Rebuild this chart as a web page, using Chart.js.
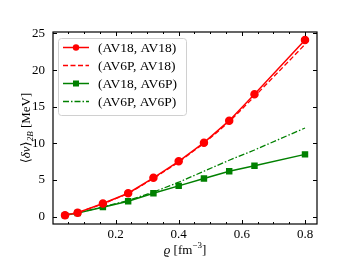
<!DOCTYPE html>
<html>
<head>
<meta charset="utf-8">
<script src="https://cdn.jsdelivr.net/npm/chart.js@4/dist/chart.umd.min.js"></script>
<style>
  html, body { margin: 0; padding: 0; background: #fff; }
  #box { width: 352px; height: 264px; }
</style>
</head>
<body>
<div id="box"><canvas id="deltaV" width="352" height="264"></canvas></div>
<script>
// density grid, fm^-3
const rho = [0.04, 0.08, 0.16, 0.24, 0.32, 0.40, 0.48, 0.56, 0.64, 0.80];
// <dv>_2B in MeV
const av18av18 = [0.2, 0.55, 1.8, 3.2, 5.3, 7.55, 10.1, 13.1, 16.7, 24.1];
const av6pav18 = [0.2, 0.55, 1.75, 3.15, 5.2, 7.45, 10.0, 12.95, 16.4, 23.5];
const av18av6p = [0.2, 0.5, 1.3, 2.1, 3.2, 4.2, 5.2, 6.2, 6.95, 8.5];
const av6pav6p = [0.2, 0.5, 1.35, 2.2, 3.35, 4.7, 6.2, 7.7, 9.1, 12.1];
const labels = ['(AV18, AV18)', '(AV6P, AV18)', '(AV18, AV6P)', '(AV6P, AV6P)'];
const xTicks = [0.2, 0.4, 0.6, 0.8];
const yTicks = [0, 5, 10, 15, 20, 25];

const SERIF = "'Liberation Serif', 'DejaVu Serif', serif";
const RED = '#ff0000';
const GREEN = '#008000';

const pts = ys => ys.map((y, i) => ({x: rho[i], y: y}));

// inward ticks on all four sides + frame, like matplotlib
const frame = {
    id: 'frame',
    afterDatasetsDraw(chart) {
        const {ctx, chartArea: a, scales: {x, y}} = chart;
        ctx.save();
        ctx.strokeStyle = '#000';
        ctx.lineWidth = 1;
        for (let v = 0.05; v < 0.84; v += 0.05) {
            const px = Math.round(x.getPixelForValue(v)) + 0.5;
            const major = xTicks.some(t => Math.abs(t - v) < 1e-6);
            const len = major ? 4 : 2;
            ctx.beginPath();
            ctx.moveTo(px, a.bottom); ctx.lineTo(px, a.bottom - len);
            ctx.moveTo(px, a.top); ctx.lineTo(px, a.top + len);
            ctx.stroke();
        }
        yTicks.forEach(v => {
            const py = Math.round(y.getPixelForValue(v)) + 0.5;
            ctx.beginPath();
            ctx.moveTo(a.left, py); ctx.lineTo(a.left + 4, py);
            ctx.moveTo(a.right, py); ctx.lineTo(a.right - 4, py);
            ctx.stroke();
        });
        ctx.lineWidth = 1.2;
        ctx.strokeRect(a.left, a.top, a.right - a.left, a.bottom - a.top);
        ctx.restore();
    }
};

// axis titles, y one has a subscript
const titles = {
    id: 'titles',
    afterDraw(chart) {
        const {ctx, chartArea: a} = chart;
        ctx.save();
        ctx.fillStyle = '#000';
        ctx.textBaseline = 'middle';
        ctx.textAlign = 'left';
        // x title
        const xparts = [
            ['italic 13px ' + SERIF, 'ϱ ', 0],
            ['13px ' + SERIF, '[fm', 0],
            ['9px ' + SERIF, '−3', -5],
            ['13px ' + SERIF, ']', 0]
        ];
        let total = 0;
        xparts.forEach(p => { ctx.font = p[0]; total += ctx.measureText(p[1]).width; });
        let sx = (a.left + a.right) / 2 - total / 2;
        xparts.forEach(p => {
            ctx.font = p[0];
            ctx.fillText(p[1], sx, 251 + p[2]);
            sx += ctx.measureText(p[1]).width;
        });

        // y title, rotated
        ctx.translate(27, (a.top + a.bottom) / 2);
        ctx.rotate(-Math.PI / 2);
        const parts = [
            ['13px ' + SERIF, '⟨', 0],
            ['italic 13px ' + SERIF, 'δv', 0],
            ['13px ' + SERIF, '⟩', 0],
            ['italic 9px ' + SERIF, '2B', 4],
            ['13px ' + SERIF, ' [MeV]', 0]
        ];
        total = 0;
        parts.forEach(p => { ctx.font = p[0]; total += ctx.measureText(p[1]).width; });
        let px = -total / 2;
        parts.forEach(p => {
            ctx.font = p[0];
            ctx.fillText(p[1], px, p[2]);
            px += ctx.measureText(p[1]).width;
        });
        ctx.restore();
    }
};

// matplotlib-style legend box in the upper left
const legendBox = {
    id: 'legendBox',
    afterDatasetsDraw(chart) {
        const {ctx, chartArea: a} = chart;
        const bx = a.left + 5, by = a.top + 6, bw = 128, bh = 77;
        ctx.save();
        ctx.beginPath();
        ctx.roundRect(bx + 0.5, by + 0.5, bw, bh, 3);
        ctx.fillStyle = 'rgba(255,255,255,0.8)';
        ctx.fill();
        ctx.strokeStyle = '#d0d0d0';
        ctx.lineWidth = 1;
        ctx.stroke();
        chart.data.datasets.forEach((ds, i) => {
            const ry = by + 9.5 + i * 18;
            const x0 = bx + 5, x1 = bx + 31;
            ctx.strokeStyle = ds.borderColor;
            ctx.lineWidth = ds.borderWidth;
            ctx.setLineDash(ds.borderDash || []);
            ctx.beginPath();
            ctx.moveTo(x0, ry); ctx.lineTo(x1, ry);
            ctx.stroke();
            ctx.setLineDash([]);
            ctx.fillStyle = ds.borderColor;
            const mx = (x0 + x1) / 2;
            if (ds.pointStyle === 'circle' && ds.pointRadius > 0) {
                ctx.beginPath(); ctx.arc(mx, ry, 3.2, 0, Math.PI * 2); ctx.fill();
            } else if (ds.pointStyle === 'rect' && ds.pointRadius > 0) {
                ctx.fillRect(mx - 3, ry - 3, 6, 6);
            }
            ctx.fillStyle = '#000';
            ctx.font = '13.5px ' + SERIF;
            ctx.textBaseline = 'middle';
            ctx.textAlign = 'left';
            ctx.fillText(ds.label, bx + 40, ry + 1);
        });
        ctx.restore();
    }
};

const ctx = document.getElementById('deltaV').getContext('2d');
const chart = new Chart(ctx, {
    type: 'line',
    data: {
        datasets: [
            {label: labels[0], data: pts(av18av18), borderColor: RED, backgroundColor: RED,
             borderWidth: 1.5, pointStyle: 'circle', pointRadius: 3.5, order: 1},
            {label: labels[1], data: pts(av6pav18), borderColor: RED, backgroundColor: RED,
             borderWidth: 1.3, borderDash: [5, 2.5], pointRadius: 0, order: 2},
            {label: labels[2], data: pts(av18av6p), borderColor: GREEN, backgroundColor: GREEN,
             borderWidth: 1.5, pointStyle: 'rect', pointRadius: 3.5, order: 3},
            {label: labels[3], data: pts(av6pav6p), borderColor: GREEN, backgroundColor: GREEN,
             borderWidth: 1.3, borderDash: [6, 2, 1.5, 2], pointRadius: 0, order: 4}
        ]
    },
    options: {
        responsive: false,
        animation: false,
        layout: {padding: {left: 0, top: 32, right: 35, bottom: 0}},
        plugins: {legend: {display: false}, tooltip: {enabled: false}},
        elements: {line: {tension: 0}, point: {borderWidth: 0}},
        scales: {
            x: {
                type: 'linear', min: 0.002, max: 0.838,
                grid: {display: false, drawTicks: false}, border: {display: false},
                afterBuildTicks: s => { s.ticks = xTicks.map(v => ({value: v})); },
                afterFit: s => { s.height = 40; },
                ticks: {color: '#000', font: {family: SERIF, size: 13}, padding: 3,
                        callback: v => v.toFixed(1), maxRotation: 0}
            },
            y: {
                type: 'linear', min: -1.0, max: 25.2,
                grid: {display: false, drawTicks: false}, border: {display: false},
                afterBuildTicks: s => { s.ticks = yTicks.map(v => ({value: v})); },
                afterFit: s => { s.width = 53; },
                ticks: {color: '#000', font: {family: SERIF, size: 13}, padding: 8}
            }
        }
    },
    plugins: [frame, legendBox, titles]
});
</script>
</body>
</html>
